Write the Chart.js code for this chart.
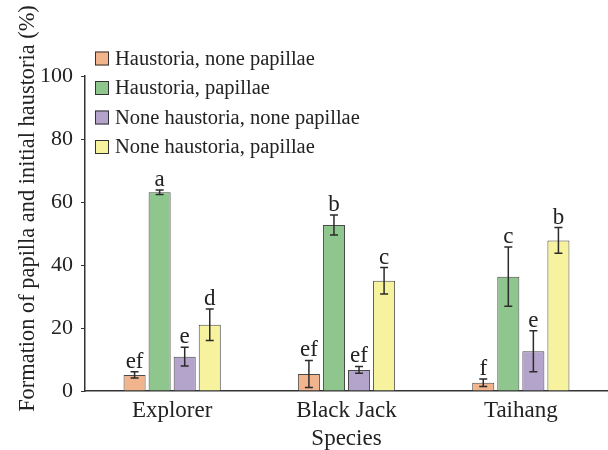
<!DOCTYPE html>
<html>
<head>
<meta charset="utf-8">
<script src="https://cdn.jsdelivr.net/npm/chart.js@4.4.0/dist/chart.umd.min.js"></script>
<style>
  body { margin: 0; background: #fff; }
  #wrap { width: 608px; height: 450px; }
</style>
</head>
<body>
<div id="wrap"><canvas id="chart"></canvas></div>
<script>
const species = ['Explorer', 'Black Jack', 'Taihang'];
const seriesNames = ['Haustoria, none papillae', 'Haustoria, papillae', 'None haustoria, none papillae', 'None haustoria, papillae'];
const hausNonePap = [5.1, 5.4, 2.6];
const hausPap = [63.1, 52.7, 36.3];
const noneNone = [10.9, 6.7, 12.6];
const nonePap = [21.0, 35.0, 47.8];
const errHausNonePap = [1.0, 4.3, 1.2];
const errHausPap = [0.7, 3.2, 9.4];
const errNoneNone = [3.0, 1.1, 6.5];
const errNonePap = [5.0, 4.2, 4.1];
const lettersHausNonePap = ['ef', 'ef', 'f'];
const lettersHausPap = ['a', 'b', 'c'];
const lettersNoneNone = ['e', 'ef', 'e'];
const lettersNonePap = ['d', 'c', 'b'];
const yTicks = [0, 20, 40, 60, 80, 100];
const yTitle = 'Formation of papilla and initial haustoria (%)';

const colors = ['#F1B48C', '#8FC68E', '#B4A3CA', '#F6F29D'];
const values = [hausNonePap, hausPap, noneNone, nonePap];
const errors = [errHausNonePap, errHausPap, errNoneNone, errNonePap];
const letters = [lettersHausNonePap, lettersHausPap, lettersNoneNone, lettersNonePap];
const FONT = '"Liberation Serif", "Times New Roman", serif';

const extras = {
  id: 'extras',
  afterDatasetsDraw(chart) {
    const ctx = chart.ctx;
    const y = chart.scales.y;
    ctx.save();
    chart.data.datasets.forEach((ds, i) => {
      const meta = chart.getDatasetMeta(i);
      meta.data.forEach((bar, j) => {
        const v = ds.data[j], e = errors[i][j];
        const top = y.getPixelForValue(v + e), bot = y.getPixelForValue(v - e);
        ctx.strokeStyle = '#2b2b2b';
        ctx.lineWidth = 1.5;
        ctx.beginPath();
        ctx.moveTo(bar.x, top); ctx.lineTo(bar.x, bot);
        ctx.moveTo(bar.x - 4, top); ctx.lineTo(bar.x + 4, top);
        ctx.moveTo(bar.x - 4, bot); ctx.lineTo(bar.x + 4, bot);
        ctx.stroke();
        ctx.fillStyle = '#222';
        ctx.font = '23px ' + FONT;
        ctx.textAlign = 'center';
        ctx.textBaseline = 'alphabetic';
        ctx.fillText(letters[i][j], bar.x, top - 4);
      });
    });
    // legend
    ctx.font = '20.5px ' + FONT;
    ctx.textAlign = 'left';
    ctx.textBaseline = 'middle';
    seriesNames.forEach((name, i) => {
      const cy = 58.5 + i * 29.5;
      ctx.fillStyle = colors[i];
      ctx.fillRect(95, cy - 7, 14, 14);
      ctx.strokeStyle = '#333';
      ctx.lineWidth = 1;
      ctx.strokeRect(95.5, cy - 6.5, 13, 13);
      ctx.fillStyle = '#222';
      ctx.fillText(name, 115, cy + 1);
    });
    // y axis title
    ctx.translate(28, 208.5);
    ctx.rotate(-Math.PI / 2);
    ctx.font = '22.4px ' + FONT;
    ctx.textAlign = 'center';
    ctx.fillText(yTitle, 0, 0);
    ctx.restore();
  }
};

new Chart(document.getElementById('chart'), {
  type: 'bar',
  data: {
    labels: species,
    datasets: values.map((d, i) => ({
      label: seriesNames[i],
      data: d,
      backgroundColor: colors[i],
      borderColor: '#4a4a4a',
      borderWidth: 1,
      barPercentage: 0.88,
      categoryPercentage: 0.575
    }))
  },
  options: {
    responsive: true,
    maintainAspectRatio: false,
    animation: false,
    layout: { padding: { top: 76, right: -12, left: 32, bottom: 0 } },
    plugins: {
      legend: { display: false },
      tooltip: { enabled: false }
    },
    scales: {
      x: {
        grid: { display: false, drawTicks: false },
        border: { display: true, color: '#333', width: 1.5 },
        ticks: { color: '#222', font: { family: FONT, size: 23, lineHeight: 1 }, padding: 8 },
        title: { display: true, text: 'Species', color: '#222', font: { family: FONT, size: 23, lineHeight: 1 }, padding: { top: -3, bottom: 0 } }
      },
      y: {
        min: 0, max: 100,
        afterBuildTicks(axis) { axis.ticks = yTicks.map(v => ({ value: v })); },
        grid: { drawOnChartArea: false, drawTicks: true, tickLength: 4, color: '#333' },
        border: { display: true, color: '#333', width: 1.5 },
        ticks: { color: '#222', font: { family: FONT, size: 22 }, padding: 8 },
        title: { display: false }
      }
    }
  },
  plugins: [extras]
});
</script>
</body>
</html>
